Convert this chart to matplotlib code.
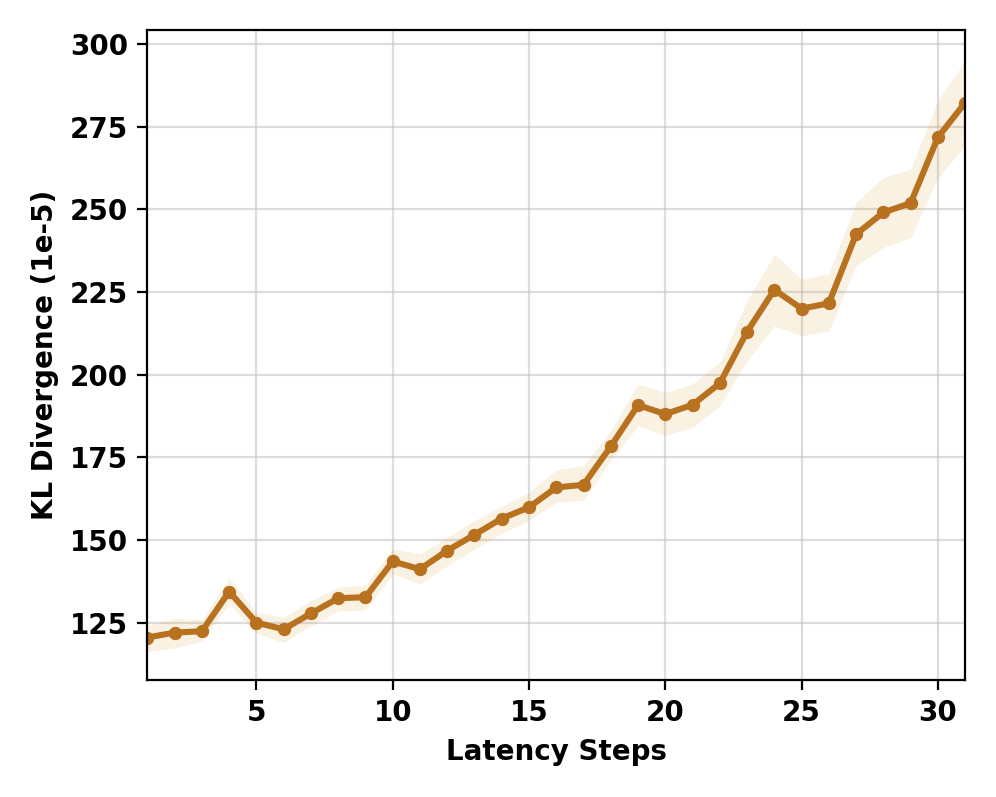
import numpy as np
import matplotlib.pyplot as plt

# latency steps and KL divergence (x 1e-5)
steps = np.arange(1, 32)
kl_mean = [120.5, 122.0, 122.4, 134.4, 125.0, 123.0, 127.8, 132.4, 132.7, 143.5,
           141.2, 146.8, 151.6, 156.5, 159.9, 165.9, 166.7, 178.3, 190.8, 188.1,
           190.9, 197.4, 213.0, 225.7, 220.0, 221.6, 242.5, 249.1, 251.9, 271.8,
           282.3]
kl_upper = [124.1, 126.3, 125.8, 138.5, 128.1, 126.6, 131.7, 135.7, 136.4, 147.3,
            145.8, 150.8, 155.9, 160.1, 164.4, 171.2, 172.5, 183.1, 197.2, 194.7,
            197.2, 203.7, 222.4, 236.5, 228.9, 230.5, 252.1, 259.7, 262.2, 282.9,
            295.0]
kl_lower = [116.3, 117.4, 119.4, 130.7, 121.8, 119.0, 124.1, 128.6, 128.8, 139.7,
            136.7, 142.2, 147.3, 152.0, 155.9, 161.4, 162.0, 174.0, 184.6, 181.6,
            184.1, 190.6, 204.2, 214.8, 211.8, 213.3, 233.0, 238.5, 241.5, 259.7,
            269.2]

color = '#B8711F'

fig, ax = plt.subplots(figsize=(4.98, 3.985), dpi=200)
fig.subplots_adjust(left=0.148, right=0.969, top=0.962, bottom=0.147)

ax.fill_between(steps, kl_lower, kl_upper, color='#D9A441', alpha=0.15, linewidth=0)
ax.plot(steps, kl_mean, color=color, linewidth=2.2, marker='o', markersize=3.8)

ax.set_xlim(1, 31)
ax.set_ylim(107.7, 304.2)
ax.set_xticks([5, 10, 15, 20, 25, 30])
ax.set_yticks([125, 150, 175, 200, 225, 250, 275, 300])
ax.grid(True, color='#bbbbbb', alpha=0.5, linewidth=0.8)
ax.set_axisbelow(True)

ax.set_xlabel('Latency Steps', fontsize=10, fontweight='bold')
ax.set_ylabel('KL Divergence (1e-5)', fontsize=10, fontweight='bold')
for lbl in ax.get_xticklabels() + ax.get_yticklabels():
    lbl.set_fontweight('bold')
    lbl.set_fontsize(10)

fig.savefig('out.png', dpi=200)
